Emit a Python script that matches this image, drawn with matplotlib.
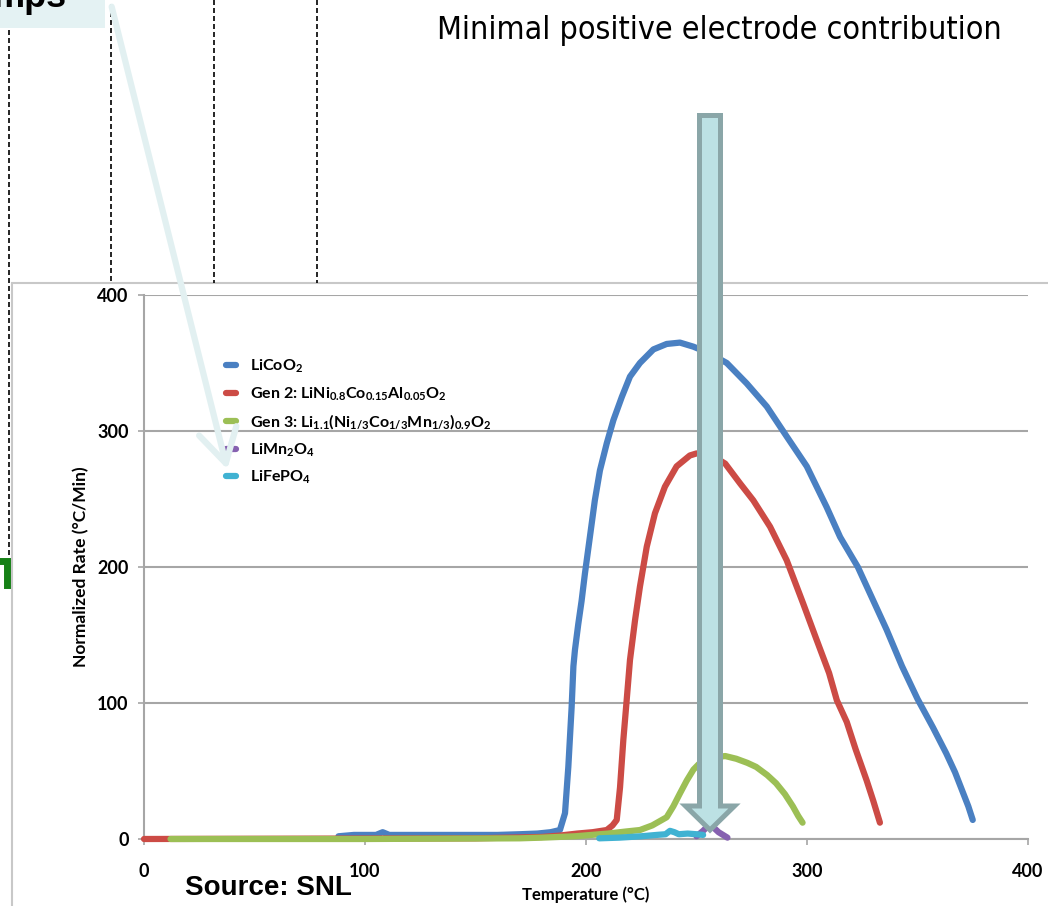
import matplotlib
matplotlib.use("Agg")
import matplotlib.pyplot as plt
from matplotlib.lines import Line2D
from matplotlib.patches import Rectangle, Polygon, FancyArrowPatch

# dados (temperatura em °C, taxa em °C/min)
licoo2_x = [88, 95, 105, 108, 111, 120, 140, 160, 170, 178, 184, 188.2, 190.5, 192, 193.5,
            194.3, 195, 196.5, 198, 199.5, 202, 204, 206.3, 209.4, 212.4, 216.2, 219.9, 224.4,
            230.5, 236.5, 242.5, 248.6, 256, 263.7, 272.7, 281.8, 290.8, 299.9, 308.9, 315,
            323, 329.5, 336, 343, 350, 357, 363, 367, 370.6, 373, 375]
licoo2_y = [2, 3, 3, 5, 3, 3, 3, 3, 3.5, 4, 5, 6.6, 19, 53, 97,
            127, 139, 158, 175, 195, 225, 249, 271, 291, 308, 325, 340, 350,
            360, 364, 365, 362, 357, 350, 335, 318, 296, 274, 244, 222,
            200, 177, 154, 127, 103, 82, 63, 49, 34, 24, 14]

gen2_x = [0, 150, 180, 188, 196, 203, 207, 209.4, 212, 213.9, 215.4, 216.9, 218.4, 219.9,
          222.2, 224.4, 227.5, 231.2, 235.7, 241, 247, 250, 256, 263, 269.7, 275.7, 283.3,
          290.8, 298.3, 304, 310, 313.5, 318, 322, 327, 330, 333]
gen2_y = [0, 0.5, 1.5, 2.5, 4, 5, 6, 6.6, 10, 14, 38, 73, 102, 131.6,
          161, 185.5, 215, 239.5, 259, 274, 282, 283.5, 283, 276, 261.5, 249, 229.6,
          205, 173, 148, 122, 102, 86, 66, 43, 28, 12]

gen3_x = [12, 100, 170, 180, 195, 210, 218, 224.4, 230, 236.5, 239.5, 242.5, 245.6, 248.6,
          251, 254, 258, 263, 268, 273, 277, 282, 286, 290, 293.6, 296, 298]
gen3_y = [0, 0, 0.5, 1, 2, 4, 5.5, 6.6, 10, 16, 24, 33.5, 43, 51,
          55, 58, 60, 61, 59, 56, 53, 47, 41, 33, 24, 17, 12]

limn_x = [250, 253, 256, 258, 260, 262, 264]
limn_y = [2, 6, 11, 8, 5, 3, 1]

lifepo_x = [206, 215, 225, 232, 236, 238, 240, 242, 246, 250, 253]
lifepo_y = [0.5, 1, 2, 3, 3.5, 6, 5, 3.5, 4, 3.5, 3]

series_labels = [
    r"LiCoO$_2$",
    r"Gen 2: LiNi$_{0.8}$Co$_{0.15}$Al$_{0.05}$O$_2$",
    r"Gen 3: Li$_{1.1}$(Ni$_{1/3}$Co$_{1/3}$Mn$_{1/3}$)$_{0.9}$O$_2$",
    r"LiMn$_2$O$_4$",
    r"LiFePO$_4$",
]
series_colors = ["#4a80c2", "#cc4b45", "#9cbf55", "#8661b0", "#40b2d2"]
ticks = [0, 100, 200, 300, 400]

plt.rcParams["mathtext.default"] = "regular"

W, H = 1048, 906
fig = plt.figure(figsize=(W / 100, H / 100), dpi=100)


def fx(x):
    return x / W


def fy(y):
    return 1 - y / H


# moldura da imagem do gráfico e linhas tracejadas do slide
fig.add_artist(Rectangle((fx(12), fy(960)), fx(1100), fy(283) - fy(960),
                         transform=fig.transFigure, fill=False,
                         edgecolor="#c8c8c8", lw=1.5, zorder=0))
for xp, y0, y1 in [(9, 30, 555), (111, 4, 283), (214, 0, 283), (317, 0, 283)]:
    fig.add_artist(Line2D([fx(xp), fx(xp)], [fy(y0), fy(y1)], transform=fig.transFigure,
                          color="black", lw=1.2, dashes=(3, 1.8)))
fig.add_artist(Line2D([fx(0), fx(7), fx(7)], [fy(561), fy(561), fy(585)],
                      transform=fig.transFigure, color="#168016", lw=5,
                      solid_joinstyle="miter"))

# caixa cortada no topo
fig.add_artist(Rectangle((0, fy(28)), fx(105), 1 - fy(28), transform=fig.transFigure,
                         facecolor="#e4f2f3", edgecolor="none"))
fig.text(fx(67), fy(7), "mps", ha="right", va="baseline", fontsize=26,
         fontweight="bold", family="Liberation Sans")

# eixo principal
ax = fig.add_axes([fx(144), fy(839), fx(1028) - fx(144), fy(295) - fy(839)])
all_x = [licoo2_x, gen2_x, gen3_x, limn_x, lifepo_x]
all_y = [licoo2_y, gen2_y, gen3_y, limn_y, lifepo_y]
for i in range(5):
    ax.plot(all_x[i], all_y[i], color=series_colors[i], lw=4.5, label=series_labels[i],
            solid_capstyle="round", solid_joinstyle="round", clip_on=False, zorder=3 + i)

ax.set_xlim(0, 400)
ax.set_ylim(0, 400)
ax.set_xticks(ticks)
ax.set_yticks(ticks)
ax.yaxis.grid(True, color="#a6a6a6", lw=1.5)
ax.set_axisbelow(True)
for s in ["top", "right"]:
    ax.spines[s].set_visible(False)
for s in ["left", "bottom"]:
    ax.spines[s].set_color("#a6a6a6")
    ax.spines[s].set_linewidth(1.5)
ax.tick_params(direction="out", length=4, width=1.2, color="#a6a6a6")
ax.tick_params(axis="y", pad=7)
ax.tick_params(axis="x", pad=13)
for lab in ax.get_xticklabels() + ax.get_yticklabels():
    lab.set_family("Lato")
    lab.set_fontweight("bold")
    lab.set_fontsize(13)
ax.set_xlabel("Temperature (°C)", family="Lato", fontweight="bold", fontsize=12, labelpad=5)
ax.set_ylabel("Normalized Rate (°C/Min)", family="Lato", fontweight="bold", fontsize=12.5,
              labelpad=6)

ax.legend(loc="upper left", bbox_to_anchor=(fx(226), fy(358)), bbox_transform=fig.transFigure,
          frameon=False, prop={"family": "Lato", "weight": "bold", "size": 11.5},
          handlelength=0.6, handletextpad=0.9, labelspacing=0.62, borderpad=0,
          borderaxespad=0)

# título
fig.text(fx(719), fy(31), "Minimal positive electrode contribution", ha="center",
         va="center", fontsize=23, family="DejaVu Sans", fontstretch="condensed")

# seta fina da caixa até a legenda
fig.add_artist(FancyArrowPatch((fx(111), fy(4)), (fx(228), fy(472)),
                               transform=fig.transFigure,
                               arrowstyle="->,head_length=0.4,head_width=0.23",
                               mutation_scale=60, lw=4.5, color="#e2f0f1", zorder=20))

# seta grande vertical
arrow_pts = [(699.5, 115.5), (720.5, 115.5), (720.5, 806), (734.5, 806), (710, 830),
             (685.5, 806), (699.5, 806)]
fig.add_artist(Polygon([(fx(a), fy(b)) for a, b in arrow_pts], closed=True,
                       transform=fig.transFigure, facecolor="#bce1e4",
                       edgecolor="#8aa6a8", lw=3.6, joinstyle="miter", zorder=20))

fig.text(fx(185), fy(895), "Source: SNL", ha="left", va="baseline", fontsize=20,
         fontweight="bold", family="Liberation Sans", zorder=21)

fig.savefig("out.png", dpi=100)
